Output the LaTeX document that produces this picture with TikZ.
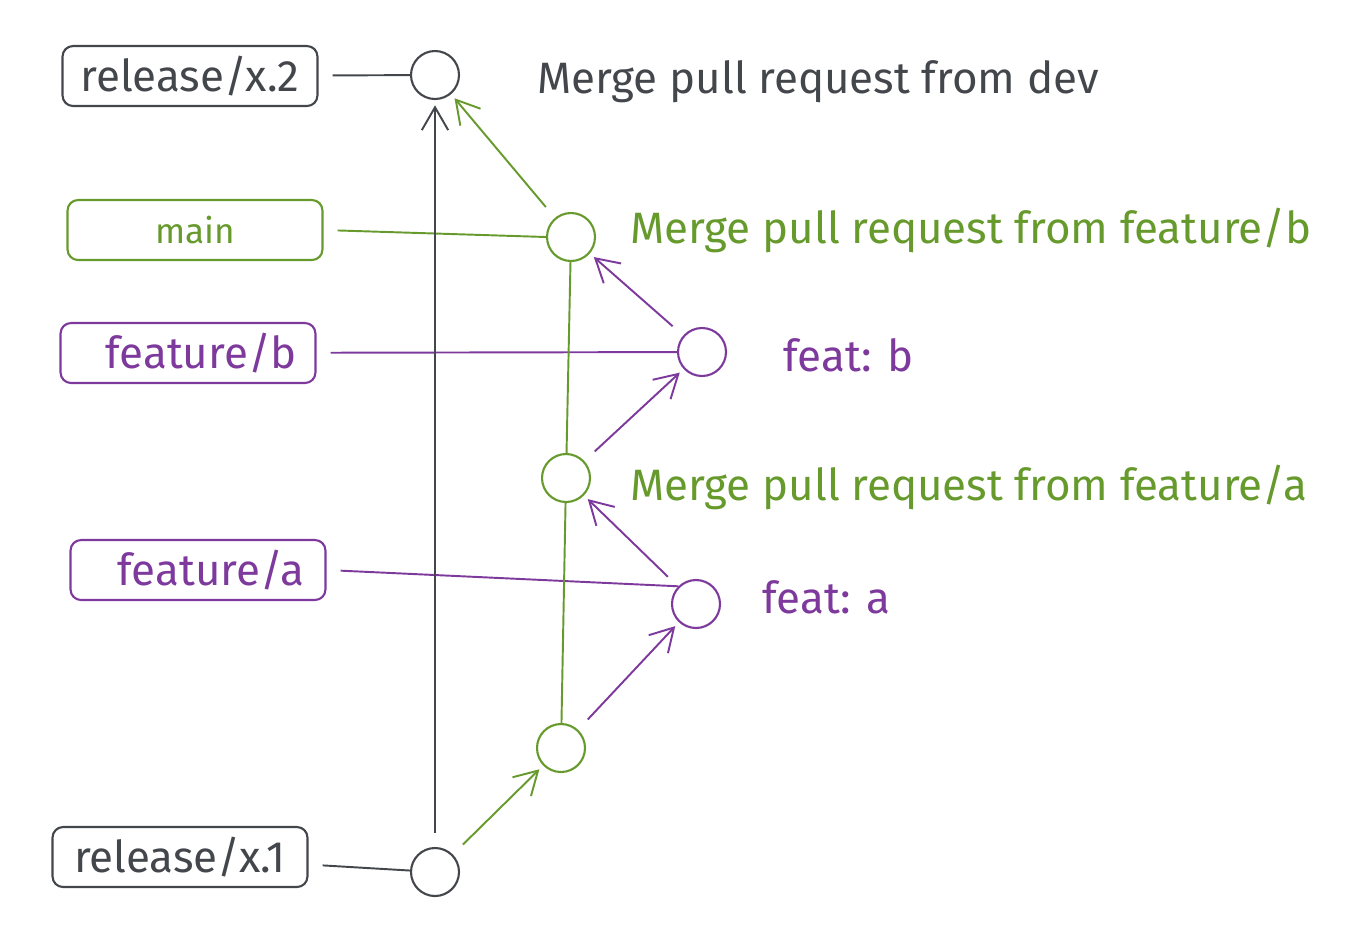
\documentclass[tikz,border=0pt]{standalone}
\usepackage{fontspec}
\setmainfont{Fira Sans}
\usetikzlibrary{arrows.meta}
\definecolor{sketchgray}{HTML}{43464B}
\definecolor{sketchgreen}{HTML}{679A2C}
\definecolor{sketchpurple}{HTML}{7D3A9C}

\begin{document}
\begin{tikzpicture}[x=0.02cm,y=-0.02cm,
    branch/.style={draw,line width=1.2pt,rounded corners=6pt,minimum width=5.1cm,minimum height=1.2cm,font=\fontsize{25}{30}\selectfont},
    commit/.style={draw,circle,line width=1.2pt,minimum size=0.96cm,inner sep=0pt},
    msg/.style={anchor=west,inner sep=0pt,font=\fontsize{25}{30}\selectfont},
    link/.style={line width=1.1pt,shorten <=8pt},
    parent/.style={line width=1.1pt,-{Straight Barb[length=13pt,width=15pt]},shorten <=8pt,shorten >=3pt}]
  \useasboundingbox (0,0) rectangle (1354,948);

  % branch labels
  \node[branch,sketchgray] (rel2) at (190,76) {release/x.2};
  \node[branch,sketchgreen,font=\fontsize{20}{24}\selectfont] (main) at (195,230) {main};
  \node[branch,sketchpurple] (featb) at (188,353) {\hspace*{15pt}feature/b};
  \node[branch,sketchpurple] (feata) at (198,570) {\hspace*{15pt}feature/a};
  \node[branch,sketchgray] (rel1) at (180,857) {release/x.1};

  % commits
  \node[commit,sketchgray] (c2) at (435,75) {};
  \node[commit,sketchgreen] (mb) at (571,237) {};
  \node[commit,sketchpurple] (fb) at (702,352) {};
  \node[commit,sketchgreen] (ma) at (566,478) {};
  \node[commit,sketchpurple] (fa) at (696,604) {};
  \node[commit,sketchgreen] (base) at (561,748) {};
  \node[commit,sketchgray] (c1) at (435,872) {};

  % commit messages
  \node[msg,sketchgray] (tc2) at (537,82) {Merge pull request from dev};
  \node[msg,sketchgreen] (tmb) at (630,230) {Merge pull request from feature/b};
  \node[msg,sketchpurple] (tfb) at (783,355) {feat: b};
  \node[msg,sketchgreen] (tma) at (630,487) {Merge pull request from feature/a};
  \node[msg,sketchpurple] (tfa) at (762,597) {feat: a};

  % branch pointers
  \draw[link,sketchgray] (rel2) -- (c2);
  \draw[link,sketchgreen] (main.east) -- (mb.west);
  \draw[link,sketchpurple] (featb) -- (fb);
  \draw[link,sketchpurple] (feata.east) -- (fa.north west);
  \draw[link,sketchgray] (rel1) -- (c1);

  % history
  \draw[parent,sketchgray] (c1) -- (c2);
  \draw[parent,sketchgreen] (c1) -- (base);
  \draw[line width=1.1pt,sketchgreen] (base) -- (ma);
  \draw[line width=1.1pt,sketchgreen] (ma) -- (mb);
  \draw[parent,sketchpurple] (base) -- (fa);
  \draw[parent,sketchpurple] (fa) -- (ma);
  \draw[parent,sketchpurple] (ma) -- (fb);
  \draw[parent,sketchpurple] (fb) -- (mb);
  \draw[parent,sketchgreen] (mb) -- (c2);
\end{tikzpicture}
\end{document}
